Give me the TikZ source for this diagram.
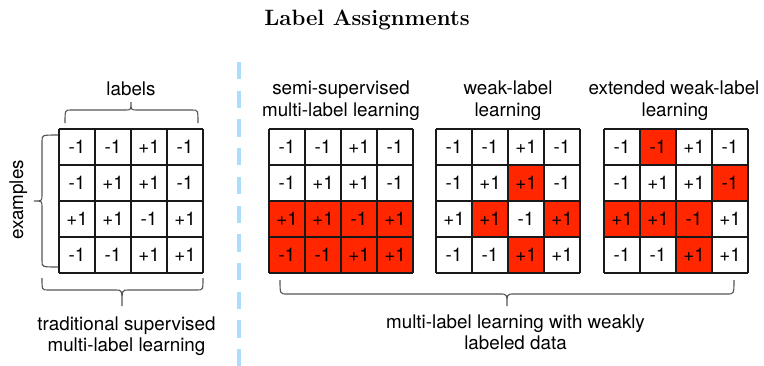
\documentclass[tikz,border=0pt]{standalone}
\usepackage{fontspec}
\setsansfont{TeX Gyre Heros}
\definecolor{wred}{RGB}{255,38,0}
\definecolor{dashblue}{RGB}{170,222,250}
\definecolor{bracegray}{RGB}{85,85,85}
\definecolor{gridblack}{RGB}{25,25,25}
\newcommand\markred[1]{\expandafter\gdef\csname wr#1\endcsname{}}
\newcommand\hbrace[7]{\draw[bracepath] (#1,#3) .. controls (#1,#4) .. (#1+#7,#4) -- (#6-#7,#4) .. controls (#6,#4) .. (#6,#5) .. controls (#6,#4) .. (#6+#7,#4) -- (#2-#7,#4) .. controls (#2,#4) .. (#2,#3);}
\newcommand\vbrace[7]{\draw[bracepath] (#3,#1) .. controls (#4,#1) .. (#4,#1+#7) -- (#4,#6-#7) .. controls (#4,#6) .. (#5,#6) .. controls (#4,#6) .. (#4,#6+#7) -- (#4,#2-#7) .. controls (#4,#2) .. (#3,#2);}
\tikzset{
  txt/.style={font=\sffamily\fontsize{9.4}{11}\selectfont, inner sep=0pt, anchor=base},
  celltext/.style={font=\sffamily\fontsize{9.4}{11}\selectfont, inner sep=0pt, minimum width=18pt, minimum height=18pt},
  gridline/.style={line width=0.7pt, gridblack},
  bracepath/.style={line width=0.55pt, bracegray},
  sepline/.style={line width=2pt, dashblue, dash pattern=on 8.65pt off 5.7pt}
}
\foreach \x in {2-3-1,2-3-2,2-3-3,2-3-4,2-4-1,2-4-2,2-4-3,2-4-4,
                3-2-3,3-3-2,3-3-4,3-4-3,
                4-1-2,4-2-4,4-3-1,4-3-2,4-3-3,4-4-3}{\markred{\x}}
\begin{document}
\begin{tikzpicture}[x=0.5pt,y=-0.5pt]
\useasboundingbox (0,0) rectangle (764,365);
\fill[white] (0,0) rectangle (764,365);
% title
\node[anchor=base, inner sep=0pt, font=\bfseries\fontsize{11.1}{13}\selectfont] (title) at (367,25) {Label Assignments};
% separator
\coordinate (septop) at (239,62);
\coordinate (sepbot) at (239,368);
\draw[sepline] (septop) -- (sepbot);
% grids
\foreach \g/\gx in {1/59,2/269,3/436,4/604} {
  \foreach \vals [count=\r] in {{-1,-1,+1,-1},{-1,+1,+1,-1},{+1,+1,-1,+1},{-1,-1,+1,+1}} {
    \foreach \v [count=\c] in \vals {
      \edef\cellfill{\ifcsname wr\g-\r-\c\endcsname wred\else white\fi}
      \node[celltext, fill=\cellfill] (g\g-\r-\c) at ({\gx+36*\c-18},{111+36*\r}) {\v};
    }
  }
  \foreach \i in {0,...,4} {
    \draw[gridline] ({\gx+36*\i},129) -- ({\gx+36*\i},273);
    \draw[gridline] (\gx,{129+36*\i}) -- ({\gx+144},{129+36*\i});
  }
}
% braces
\hbrace{65}{198}{123}{110}{102}{131}{6}
\vbrace{135}{267}{58}{42}{34}{201}{6}
\hbrace{42}{203}{278}{290}{306}{122}{6}
\hbrace{280}{734}{280}{294}{306}{507}{7}
% labels
\node[txt] (lab) at (131,95) {labels};
\node[txt, rotate=90] (ex) at (23,200) {examples};
\node[txt] (t2a) at (341,94) {semi-supervised};
\node[txt] (t2b) at (341,116) {multi-label learning};
\node[txt] (t3a) at (508,94) {weak-label};
\node[txt] (t3b) at (508,116) {learning};
\node[txt] (t4a) at (674,94) {extended weak-label};
\node[txt] (t4b) at (675,116) {learning};
\node[txt] (b1a) at (126.5,330) {traditional supervised};
\node[txt] (b1b) at (126.5,351) {multi-label learning};
\node[txt] (b2a) at (515.5,328) {multi-label learning with weakly};
\node[txt] (b2b) at (515.5,349) {labeled data};
\end{tikzpicture}
\end{document}
